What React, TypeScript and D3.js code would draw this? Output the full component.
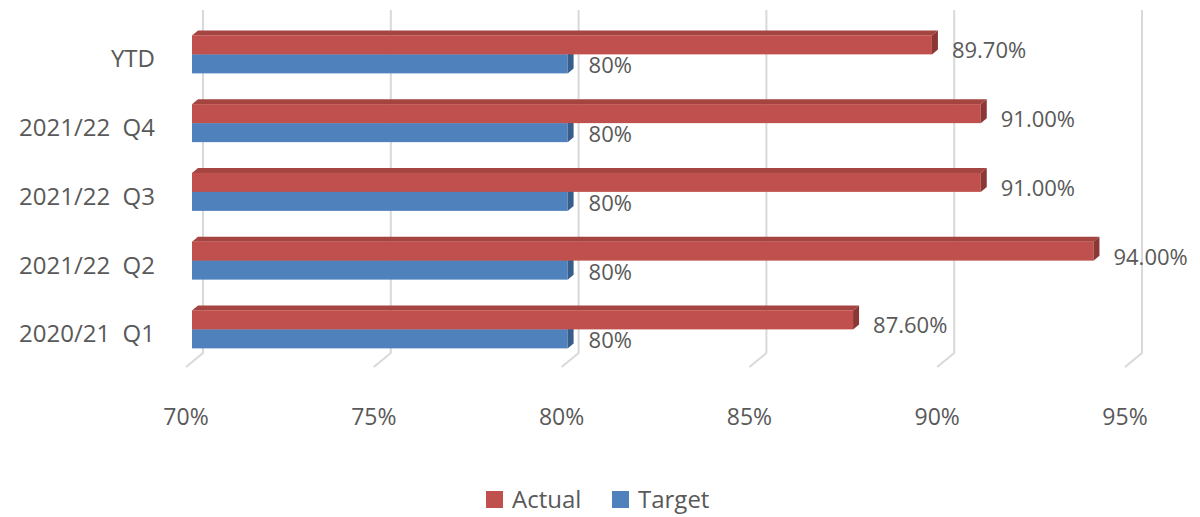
import React from "react";
import * as d3 from "d3";

const categories = ["YTD", "2021/22  Q4", "2021/22  Q3", "2021/22  Q2", "2020/21  Q1"];
const actual = [89.7, 91.0, 91.0, 94.0, 87.6];
const target = [80, 80, 80, 80, 80];
const actualLabels = ["89.70%", "91.00%", "91.00%", "94.00%", "87.60%"];
const targetLabels = ["80%", "80%", "80%", "80%", "80%"];
const ticks = [70, 75, 80, 85, 90, 95];
const series = ["Actual", "Target"];

const W = 1200;
const H = 517;
const FONT = "'Open Sans', sans-serif";
const TXT = "#595959";

const RED = { front: "#c0504d", top: "#a44542", cap: "#8b3735" };
const BLUE = { front: "#4f81bd", top: "#45709f", cap: "#385d8a" };

export default function App() {
  const xFront = d3.scaleLinear().domain([70, 95]).range([186, 1125]);
  const backOff = 17;
  const backUp = 14;
  const barOff = 6;
  const y = d3.scaleBand<string>().domain(categories).range([20, 363.75]);
  const barH = 19;
  const dx = 6;
  const dy = 5;

  const bx = (v: number) => xFront(v) + barOff;

  const bar = (v: number, top: number, c: typeof RED, key: string) => {
    const x0 = bx(70);
    const x1 = bx(v);
    const bot = top + barH;
    return (
      <g key={key}>
        <path
          d={`M${x0},${top} L${x0 + dx},${top - dy} L${x1 + dx},${top - dy} L${x1},${top} Z`}
          fill={c.top}
        />
        <rect x={x0} y={top} width={x1 - x0} height={barH} fill={c.front} />
        <path
          d={`M${x1},${top} L${x1 + dx},${top - dy} L${x1 + dx},${bot - dy} L${x1},${bot} Z`}
          fill={c.cap}
        />
      </g>
    );
  };

  const floorY = 367;
  return (
    <svg
      width={W}
      height={H}
      style={{ position: "absolute", left: 0, top: 0, background: "#fff" }}
    >
      {ticks.map((t) => {
        const xf = xFront(t);
        const xb = xf + backOff;
        return (
          <path
            key={"g" + t}
            d={`M${xb},10 L${xb},${floorY - backUp} L${xf},${floorY}`}
            fill="none"
            stroke="#d9d9d9"
            strokeWidth={2}
          />
        );
      })}
      {categories.map((c, i) => {
        const mid = (y(c) as number) + y.bandwidth() / 2;
        return (
          <g key={c}>
            {bar(target[i], mid, BLUE, "b")}
            {bar(actual[i], mid - barH, RED, "r")}
            <text
              x={bx(actual[i]) + 20}
              y={mid + 4}
              fontFamily={FONT}
              fontSize={22}
              fill={TXT}
            >
              {actualLabels[i]}
            </text>
            <text
              x={bx(target[i]) + 21}
              y={mid + 19}
              fontFamily={FONT}
              fontSize={22}
              fill={TXT}
            >
              {targetLabels[i]}
            </text>
            <text
              x={155}
              y={mid + 13}
              textAnchor="end"
              fontFamily={FONT}
              fontSize={24}
              fill={TXT}
              style={{ whiteSpace: "pre" }}
            >
              {c}
            </text>
          </g>
        );
      })}
      {ticks.map((t) => (
        <text
          key={"t" + t}
          x={xFront(t)}
          y={425}
          textAnchor="middle"
          fontFamily={FONT}
          fontSize={23}
          fill={TXT}
        >
          {t + "%"}
        </text>
      ))}
      {series.map((s, i) => {
        const lx = i === 0 ? 486 : 612;
        return (
          <g key={s}>
            <rect x={lx} y={491} width={17} height={17} fill={i === 0 ? RED.front : BLUE.front} />
            <text x={lx + 26} y={508} fontFamily={FONT} fontSize={24} fill={TXT}>
              {s}
            </text>
          </g>
        );
      })}
    </svg>
  );
}
